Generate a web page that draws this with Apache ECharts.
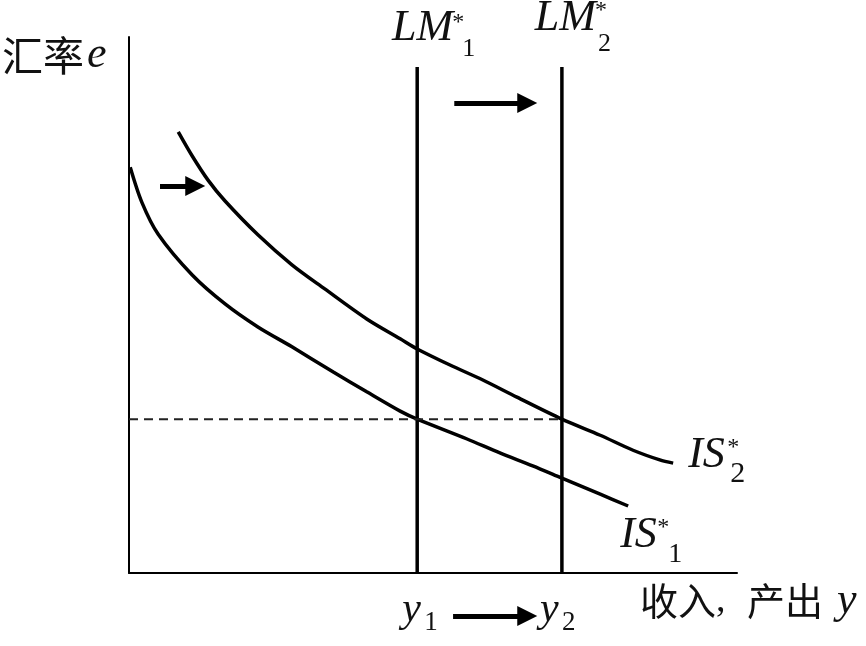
<!DOCTYPE html>
<html>
<head>
<meta charset="utf-8">
<script src="https://cdn.jsdelivr.net/npm/echarts@6/dist/echarts.min.js"></script>
<style>
html, body { margin: 0; padding: 0; background: #fff; }
#main { width: 866px; height: 646px; }
</style>
</head>
<body>
<div id="main"></div>
<script>
// IS* curves (income, exchange rate)
var is1Points = [[0.2, 75.7], [2.1, 69.2], [4.8, 63.2], [10.4, 55.6], [15.8, 50.2], [21.2, 45.9],
    [26.8, 42.2], [33.6, 37.5], [39.1, 33.8], [44.6, 30.2], [47.4, 28.7], [55.6, 25.0],
    [61.0, 22.4], [66.4, 20.0], [71.2, 17.7], [77.5, 14.7], [82.1, 12.5]];
var is2Points = [[8.1, 82.3], [10.4, 77.8], [13.0, 73.3], [15.8, 69.4], [21.2, 63.1], [26.8, 57.5],
    [32.2, 53.0], [39.1, 47.4], [44.6, 43.7], [47.4, 41.8], [52.8, 38.8], [58.2, 36.0],
    [63.8, 32.8], [71.2, 28.7], [77.5, 25.7], [82.9, 22.9], [87.3, 21.1], [89.5, 20.5]];
var incomeLevels = [47.4, 71.2];   // y1, y2 (LM*1, LM*2)
var lmTop = 94.4;
var rateLevel = 28.7;              // e
// shift arrows: LM move, IS move, y1 -> y2
var shiftArrows = [
    [[53.5, 87.7], [65.5, 87.7]],
    [[5.1, 72.2], [10.9, 72.2]],
    [[53.3, -8.0], [65.5, -8.0]]
];

var chart = echarts.init(document.getElementById('main'));

var black = '#000';
var hiddenAxis = {
    type: 'value',
    min: 0,
    max: 100,
    axisLine: { lineStyle: { color: black, width: 2 } },
    axisTick: { show: false },
    axisLabel: { show: false },
    splitLine: { show: false }
};

function curve(data, extra) {
    return Object.assign({
        type: 'line',
        data: data,
        symbol: 'none',
        silent: true,
        lineStyle: { color: black, width: 3.5 }
    }, extra || {});
}

var option = {
    backgroundColor: '#fff',
    animation: false,
    grid: { left: 129, right: 129, top: 37, bottom: 73 },
    xAxis: hiddenAxis,
    yAxis: hiddenAxis,
    series: [
        curve(is1Points, { smooth: 0.3 }),
        curve(is2Points, { smooth: 0.3 }),
        curve([[incomeLevels[0], 0], [incomeLevels[0], lmTop]]),
        curve([[incomeLevels[1], 0], [incomeLevels[1], lmTop]]),
        curve([[0, rateLevel], [incomeLevels[1], rateLevel]], {
            lineStyle: { color: '#222', width: 2, type: [9, 6] }
        }),
        {
            type: 'lines',
            coordinateSystem: 'cartesian2d',
            clip: false,
            silent: true,
            symbol: ['none', 'path://M10,0 L20,20 L0,20 Z'],
            symbolSize: 20,
            lineStyle: { color: black, width: 5, opacity: 1, curveness: 0 },
            data: shiftArrows.map(function (c) { return { coords: c }; })
        }
    ]
};
chart.setOption(option);

// labels, placed from the data positions of the lines
function pt(x, y) { return chart.convertToPixel({ gridIndex: 0 }, [x, y]); }
function txt(x, y, text, size, italic, align) {
    return {
        type: 'text', x: x, y: y, silent: true,
        style: {
            text: text, fontSize: size, fontFamily: 'Liberation Serif',
            fontStyle: italic ? 'italic' : 'normal', fill: '#111',
            align: align || 'left', verticalAlign: 'middle'
        }
    };
}

var lm1 = pt(incomeLevels[0], lmTop);
var lm2 = pt(incomeLevels[1], lmTop);
var is1End = pt(is1Points[is1Points.length - 1][0], is1Points[is1Points.length - 1][1]);
var is2End = pt(is2Points[is2Points.length - 1][0], is2Points[is2Points.length - 1][1]);
var base1 = pt(incomeLevels[0], 0);
var base2 = pt(incomeLevels[1], 0);
var origin = pt(0, 100);
var xEnd = pt(100, 0);

var labels = [
    txt(lm1[0] + 36, lm1[1] - 39, 'LM', 44, true, 'right'),
    txt(lm1[0] + 35, lm1[1] - 44, '*', 24, false),
    txt(lm1[0] + 45, lm1[1] - 18, '1', 26, false),
    txt(lm2[0] + 34, lm2[1] - 49, 'LM', 44, true, 'right'),
    txt(lm2[0] + 33, lm2[1] - 56, '*', 24, false),
    txt(lm2[0] + 36, lm2[1] - 23, '2', 26, false),
    txt(is2End[0] + 15, is2End[1] - 8, 'IS', 44, true),
    txt(is2End[0] + 54, is2End[1] - 15, '*', 24, false),
    txt(is2End[0] + 57, is2End[1] + 11, '2', 30, false),
    txt(is1End[0] - 8, is1End[1] + 29, 'IS', 44, true),
    txt(is1End[0] + 29, is1End[1] + 22, '*', 24, false),
    txt(is1End[0] + 40, is1End[1] + 49, '1', 28, false),
    txt(base1[0] - 15, base1[1] + 37, 'y', 42, true),
    txt(base1[0] + 7, base1[1] + 50, '1', 27, false),
    txt(base2[0] - 22, base2[1] + 37, 'y', 42, true),
    txt(base2[0] + 0, base2[1] + 50, '2', 27, false),
    {
        type: 'text', x: 2, y: origin[1] + 18, silent: true,
        style: {
            text: '{c|汇率}{e|e}', verticalAlign: 'middle', fill: '#111',
            rich: {
                c: { fontFamily: 'Noto Sans CJK SC', fontSize: 41, fill: '#111' },
                e: { fontFamily: 'Liberation Serif', fontStyle: 'italic', fontSize: 44, fill: '#111', padding: [0, 0, 0, 3] }
            }
        }
    },
    {
        type: 'text', x: xEnd[0] - 97, y: xEnd[1] + 28, silent: true,
        style: {
            text: '{c|收入}{p|,}{c|产出}{e|y}', verticalAlign: 'middle', fill: '#111',
            rich: {
                c: { fontFamily: 'Noto Sans CJK SC', fontSize: 38, fill: '#111' },
                p: { fontFamily: 'Liberation Serif', fontSize: 38, fill: '#111', width: 31 },
                e: { fontFamily: 'Liberation Serif', fontStyle: 'italic', fontSize: 44, fill: '#111', padding: [0, 0, 0, 14] }
            }
        }
    }
];
chart.setOption({ graphic: labels });
</script>
</body>
</html>
